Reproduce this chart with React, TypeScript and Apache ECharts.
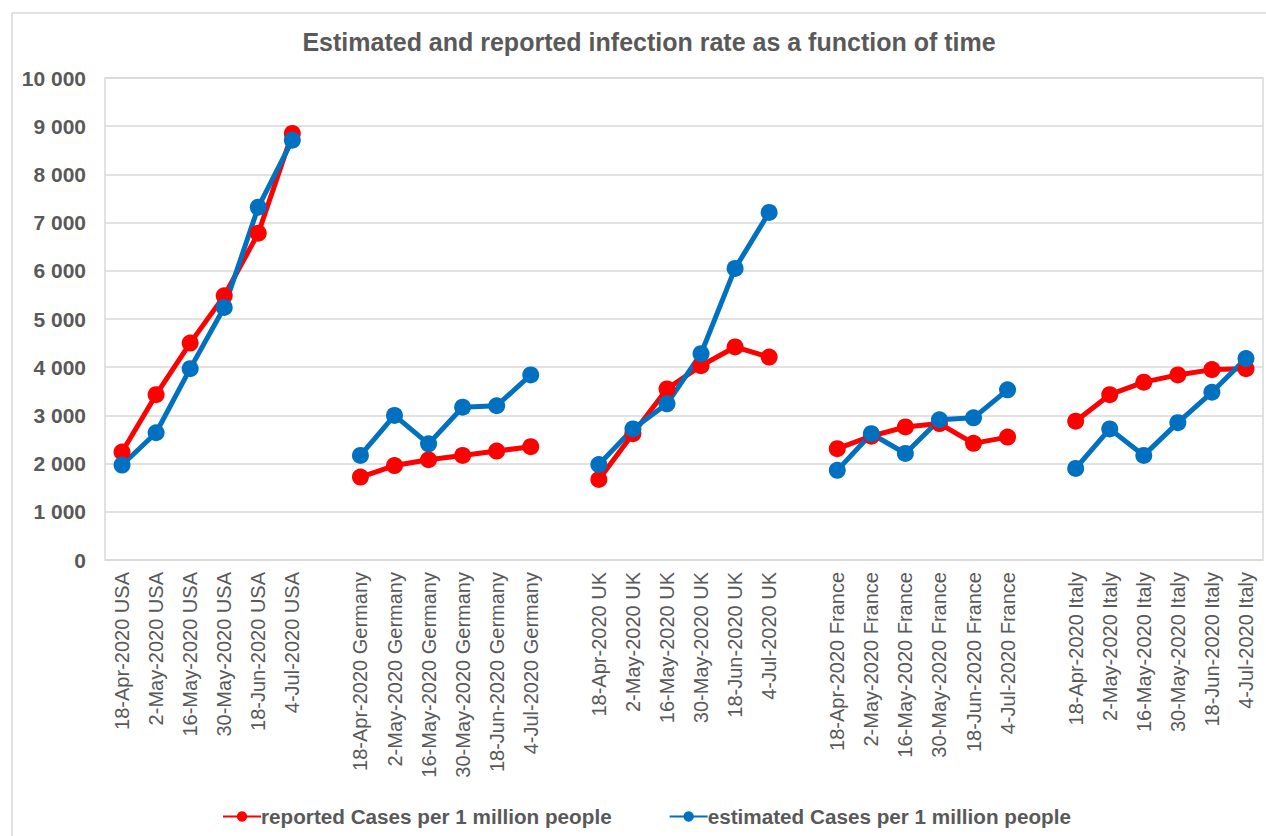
import React, { useEffect, useRef } from "react";
import * as echarts from "echarts";

const dates = ["18-Apr-2020", "2-May-2020", "16-May-2020", "30-May-2020", "18-Jun-2020", "4-Jul-2020"];
const countries = ["USA", "Germany", "UK", "France", "Italy"];

const reportedUSA = [2240, 3430, 4500, 5480, 6780, 8850];
const reportedGermany = [1720, 1960, 2080, 2170, 2260, 2350];
const reportedUK = [1670, 2620, 3550, 4030, 4420, 4210];
const reportedFrance = [2310, 2570, 2760, 2830, 2420, 2550];
const reportedItaly = [2880, 3430, 3690, 3840, 3950, 3970];

const estimatedUSA = [1970, 2640, 3970, 5240, 7320, 8710];
const estimatedGermany = [2170, 3000, 2410, 3170, 3200, 3840];
const estimatedUK = [1980, 2720, 3240, 4280, 6050, 7210];
const estimatedFrance = [1860, 2620, 2210, 2910, 2950, 3530];
const estimatedItaly = [1900, 2720, 2170, 2850, 3480, 4180];

const yTicks = [0, 1000, 2000, 3000, 4000, 5000, 6000, 7000, 8000, 9000, 10000];

const TEXT = "#595959";
const GRIDC = "#d9d9d9";
const FONT = "Liberation Sans, Arial, sans-serif";

function buildCategories(): string[] {
  const cats: string[] = [];
  countries.forEach((c, i) => {
    if (i > 0) cats.push("");
    dates.forEach((d) => cats.push(d + " " + c));
  });
  return cats;
}

function buildSeries(groups: number[][]): (number | string)[] {
  const out: (number | string)[] = [];
  groups.forEach((g, i) => {
    if (i > 0) out.push("-");
    g.forEach((v) => out.push(v));
  });
  return out;
}

export default function App() {
  const ref = useRef<HTMLDivElement>(null);
  useEffect(() => {
    if (!ref.current) return;
    const chart = echarts.init(ref.current, undefined, { renderer: "svg" });
    const categories = buildCategories();
    const reported = buildSeries([reportedUSA, reportedGermany, reportedUK, reportedFrance, reportedItaly]);
    const estimated = buildSeries([estimatedUSA, estimatedGermany, estimatedUK, estimatedFrance, estimatedItaly]);
    chart.setOption({
      animation: false,
      backgroundColor: "#ffffff",
      textStyle: { fontFamily: FONT },
      title: {
        text: "Estimated and reported infection rate as a function of time",
        left: 644,
        textAlign: "center",
        top: 24,
        textStyle: { color: TEXT, fontSize: 25, fontWeight: "bold", fontFamily: FONT },
      },
      graphic: [
        {
          type: "rect",
          shape: { x: 12, y: 13, width: 1270, height: 840 },
          style: { fill: "none", stroke: GRIDC, lineWidth: 1.5 },
          silent: true,
        },
      ],
      grid: {
        left: 105,
        right: 3,
        top: 78,
        bottom: 276,
        show: true,
        borderColor: GRIDC,
        borderWidth: 1.5,
        containLabel: false,
      },
      legend: {
        data: ["reported Cases per 1 million people", "estimated Cases per 1 million people"],
        left: 217,
        top: 801,
        itemWidth: 38,
        itemHeight: 13,
        itemGap: 57,
        textStyle: { color: TEXT, fontSize: 20.7, fontWeight: "bold", fontFamily: FONT, padding: [0, 0, 0, -5] },
      },
      xAxis: {
        type: "category",
        data: categories,
        boundaryGap: true,
        axisLine: { show: false },
        axisTick: { show: false },
        axisLabel: {
          rotate: 90,
          interval: 0,
          margin: 12,
          color: TEXT,
          fontSize: 20,
          fontFamily: FONT,
        },
      },
      yAxis: {
        type: "value",
        min: yTicks[0],
        max: yTicks[yTicks.length - 1],
        interval: yTicks[1] - yTicks[0],
        axisLine: { show: false },
        axisTick: { show: false },
        splitLine: { lineStyle: { color: GRIDC, width: 1.5 } },
        axisLabel: {
          color: TEXT,
          fontSize: 21,
          fontWeight: "bold",
          fontFamily: FONT,
          margin: 19,
          formatter: (v: number) => String(v).replace(/\B(?=(\d{3})+(?!\d))/g, " "),
        },
      },
      series: [
        {
          name: "reported Cases per 1 million people",
          type: "line",
          data: reported,
          connectNulls: false,
          symbol: "circle",
          symbolSize: 17,
          itemStyle: { color: "#ff0000" },
          lineStyle: { color: "#ff0000", width: 5 },
        },
        {
          name: "estimated Cases per 1 million people",
          type: "line",
          data: estimated,
          connectNulls: false,
          symbol: "circle",
          symbolSize: 17,
          itemStyle: { color: "#0070c0" },
          lineStyle: { color: "#0070c0", width: 5 },
        },
      ],
    });
    return () => chart.dispose();
  }, []);
  return (
    <div
      ref={ref}
      style={{ position: "fixed", left: 0, top: 0, width: 1266, height: 836 }}
    />
  );
}
